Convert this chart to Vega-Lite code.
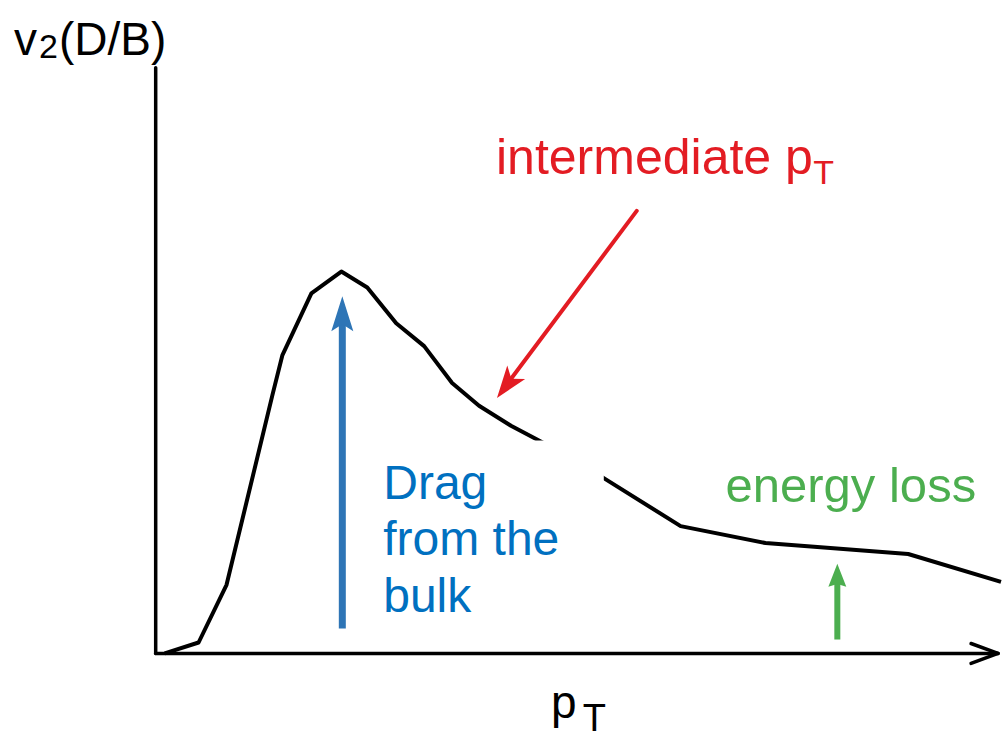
{
  "$schema": "https://vega.github.io/schema/vega-lite/v6.json",
  "width": 1003,
  "height": 739,
  "autosize": {"type": "fit", "contains": "padding"},
  "padding": 0,
  "background": "white",
  "config": {"view": {"stroke": null}, "text": {"font": "Liberation Sans"}},
  "datasets": {
    "curve": [
      {"x": 165, "y": 82}, {"x": 199, "y": 93}, {"x": 227, "y": 151}, {"x": 273, "y": 342},
      {"x": 283, "y": 382}, {"x": 312, "y": 444}, {"x": 342, "y": 466}, {"x": 368, "y": 450},
      {"x": 397, "y": 414}, {"x": 425, "y": 391}, {"x": 453, "y": 354}, {"x": 480, "y": 331},
      {"x": 512, "y": 311}, {"x": 540, "y": 296}, {"x": 575, "y": 277}, {"x": 607, "y": 257},
      {"x": 682, "y": 210}, {"x": 767, "y": 193}, {"x": 910, "y": 182}, {"x": 1003, "y": 154}
    ],
    "box": [{"x": 378, "x2": 605, "y": 296, "y2": 109}],
    "axes": [
      {"x": 156, "y": 671, "x2": 156, "y2": 82},
      {"x": 156, "y": 82, "x2": 1000, "y2": 82},
      {"x": 973, "y": 92, "x2": 1000, "y2": 82},
      {"x": 973, "y": 72, "x2": 1000, "y2": 82}
    ],
    "blueShaft": [{"x": 343, "y": 107, "x2": 343, "y2": 415}],
    "redShaft": [{"x": 638, "y": 527, "x2": 506, "y2": 350}],
    "greenShaft": [{"x": 839, "y": 96, "x2": 839, "y2": 155}],
    "blueHead": [{"x": 343, "y": 423.5}],
    "redHead": [{"x": 507.6, "y": 351.8}],
    "greenHead": [{"x": 839, "y": 160.5}],
    "mainLabels": [
      {"x": 14, "y": 684, "t": "v"},
      {"x": 59, "y": 684, "t": "(D/B)"},
      {"x": 552, "y": 17, "t": "p"}
    ],
    "subLabels": [
      {"x": 39, "y": 681, "t": "2"}
    ],
    "ptSub": [
      {"x": 584, "y": 4, "t": "T"}
    ],
    "redLabel": [{"x": 497, "y": 564, "t": "intermediate p"}],
    "redSub": [{"x": 815, "y": 554, "t": "T"}],
    "blueLabel": [
      {"x": 384, "y": 237, "t": "Drag"},
      {"x": 384, "y": 181, "t": "from the"},
      {"x": 384, "y": 124, "t": "bulk"}
    ],
    "greenLabel": [{"x": 727, "y": 234, "t": "energy loss"}]
  },
  "encoding": {
    "x": {"field": "x", "type": "quantitative", "scale": {"domain": [0, 1003], "nice": false, "zero": false}, "axis": null},
    "y": {"field": "y", "type": "quantitative", "scale": {"domain": [0, 739], "nice": false, "zero": false}, "axis": null}
  },
  "layer": [
    {"data": {"name": "curve"}, "mark": {"type": "line", "color": "black", "strokeWidth": 4, "strokeJoin": "round"}, "encoding": {"order": {"field": "x", "type": "quantitative"}}},
    {"data": {"name": "box"}, "mark": {"type": "rect", "color": "white"}, "encoding": {"x2": {"field": "x2"}, "y2": {"field": "y2"}}},
    {"data": {"name": "axes"}, "mark": {"type": "rule", "color": "black", "strokeWidth": 3.5, "strokeCap": "round"}, "encoding": {"x2": {"field": "x2"}, "y2": {"field": "y2"}}},
    {"data": {"name": "blueShaft"}, "mark": {"type": "rule", "color": "#2e75b6", "strokeWidth": 7}, "encoding": {"x2": {"field": "x2"}, "y2": {"field": "y2"}}},
    {"data": {"name": "redShaft"}, "mark": {"type": "rule", "color": "#e31c23", "strokeWidth": 4, "strokeCap": "round"}, "encoding": {"x2": {"field": "x2"}, "y2": {"field": "y2"}}},
    {"data": {"name": "greenShaft"}, "mark": {"type": "rule", "color": "#4cae4f", "strokeWidth": 6}, "encoding": {"x2": {"field": "x2"}, "y2": {"field": "y2"}}},
    {"data": {"name": "blueHead"}, "mark": {"type": "point", "filled": true, "color": "#2e75b6", "opacity": 1, "shape": "M0,-1L0.63,1L0,0.6L-0.63,1Z", "size": 1225}},
    {"data": {"name": "redHead"}, "mark": {"type": "point", "filled": true, "color": "#e31c23", "opacity": 1, "shape": "M0,-1L0.7,1L0,0.5L-0.7,1Z", "size": 1024, "angle": 217}},
    {"data": {"name": "greenHead"}, "mark": {"type": "point", "filled": true, "color": "#4cae4f", "opacity": 1, "shape": "M0,-1L0.78,1L0,0.75L-0.78,1Z", "size": 529}},
    {"data": {"name": "mainLabels"}, "mark": {"type": "text", "align": "left", "baseline": "alphabetic", "fontSize": 46, "color": "black"}, "encoding": {"text": {"field": "t"}}},
    {"data": {"name": "subLabels"}, "mark": {"type": "text", "align": "left", "baseline": "alphabetic", "fontSize": 34, "color": "black"}, "encoding": {"text": {"field": "t"}}},
    {"data": {"name": "ptSub"}, "mark": {"type": "text", "align": "left", "baseline": "alphabetic", "fontSize": 38, "color": "black"}, "encoding": {"text": {"field": "t"}}},
    {"data": {"name": "redLabel"}, "mark": {"type": "text", "align": "left", "baseline": "alphabetic", "fontSize": 50, "color": "#e31c23"}, "encoding": {"text": {"field": "t"}}},
    {"data": {"name": "redSub"}, "mark": {"type": "text", "align": "left", "baseline": "alphabetic", "fontSize": 34, "color": "#e31c23"}, "encoding": {"text": {"field": "t"}}},
    {"data": {"name": "blueLabel"}, "mark": {"type": "text", "align": "left", "baseline": "alphabetic", "fontSize": 48, "color": "#0070c0"}, "encoding": {"text": {"field": "t"}}},
    {"data": {"name": "greenLabel"}, "mark": {"type": "text", "align": "left", "baseline": "alphabetic", "fontSize": 49, "color": "#4cae4f"}, "encoding": {"text": {"field": "t"}}}
  ]
}
